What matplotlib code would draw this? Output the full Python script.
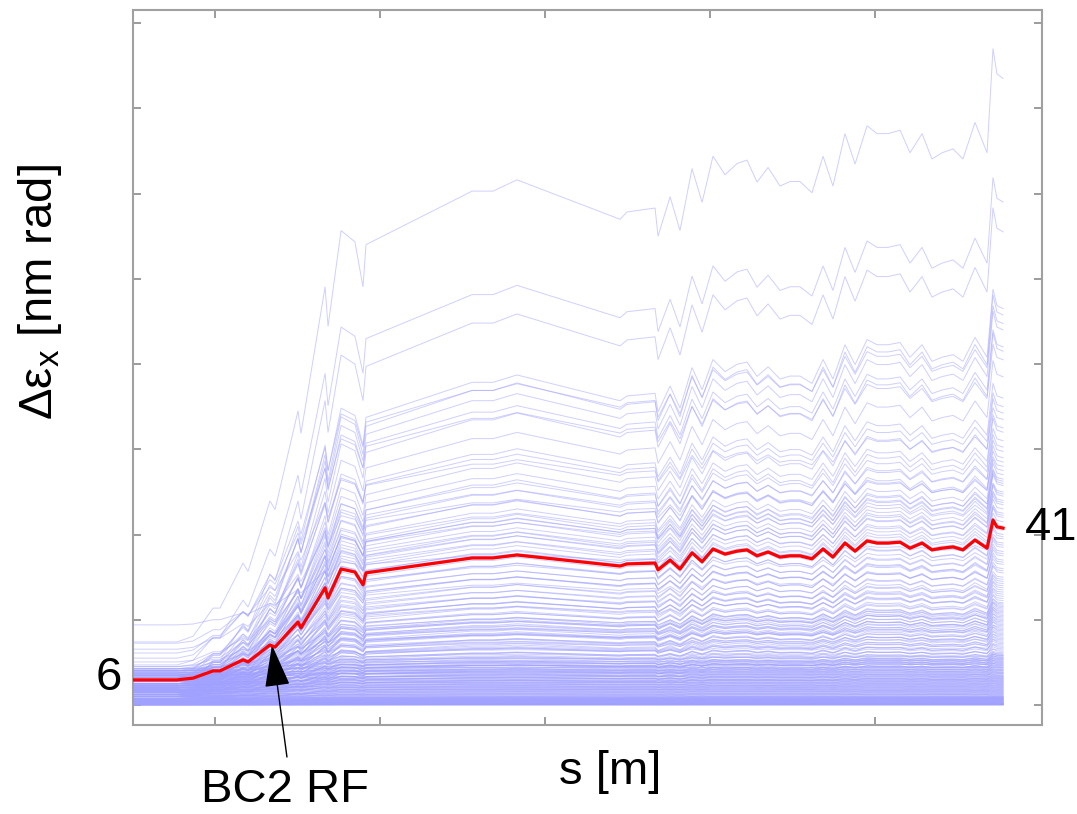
import matplotlib
matplotlib.use("Agg")
import matplotlib.pyplot as plt
import numpy as np

plt.rcParams['font.family'] = ['Liberation Sans', 'DejaVu Sans']
plt.rcParams['mathtext.fontset'] = 'custom'
plt.rcParams['mathtext.rm'] = 'Liberation Sans'
plt.rcParams['mathtext.it'] = 'Liberation Sans:italic'

# position along the beamline [m]
s_m = [50.3, 77.0, 86.7, 98.8, 103.0, 117.0, 120.0, 133.3, 136.4, 150.3,
       152.1, 166.7, 168.5, 176.4, 184.8, 189.7, 191.5, 255.8, 268.5, 283.0,
       345.5, 349.7, 366.7, 368.5, 375.8, 381.8, 389.1, 395.2, 401.8, 409.1,
       416.4, 422.4, 428.5, 435.2, 442.4, 448.5, 454.5, 461.8, 468.5, 474.5,
       481.8, 487.9, 495.2, 501.2, 507.9, 515.2, 521.2, 528.5, 534.5, 540.6,
       547.3, 553.3, 560.6, 567.9, 571.5, 573.9, 577.6]

# highlighted (red) emittance growth [nm rad]
red_growth = [5.9, 5.9, 6.3, 8.0, 8.0, 10.6, 10.1, 14.1, 13.6, 19.5,
              18.1, 27.5, 25.1, 31.9, 31.2, 28.2, 31.0, 34.5, 34.5, 35.2,
              32.6, 33.1, 33.3, 31.7, 34.0, 31.9, 35.7, 33.6, 36.6, 35.4,
              36.1, 36.4, 35.0, 35.9, 34.7, 35.0, 35.0, 34.3, 36.6, 34.7,
              38.0, 36.1, 38.5, 38.0, 38.0, 38.2, 36.8, 38.0, 36.4, 36.8,
              37.1, 36.4, 38.7, 36.8, 43.4, 41.8, 41.5]

# common relative growth shape of the individual (blue) runs
run_shape = [0.0, 0.0, 0.01, 0.06, 0.06, 0.14, 0.125, 0.25, 0.235, 0.41,
             0.37, 0.63, 0.56, 0.73, 0.71, 0.63, 0.705, 0.80, 0.80, 0.82,
             0.75, 0.763, 0.77, 0.72, 0.79, 0.73, 0.84, 0.78, 0.862, 0.829,
             0.849, 0.855, 0.816, 0.842, 0.809, 0.817, 0.817, 0.797, 0.862, 0.809,
             0.902, 0.848, 0.916, 0.902, 0.902, 0.908, 0.868, 0.902, 0.857, 0.868,
             0.875, 0.857, 0.922, 0.868, 1.053, 1.008, 1.0]

# (start value, end value) of the upper blue runs [nm rad]
upper_runs = [(14.8, 147), (9.4, 118), (4.0, 111), (6.5, 93), (3.0, 91.5), (11.0, 89.5),
              (5.0, 88), (7.5, 84), (2.5, 83), (12.2, 81), (4.5, 77), (6.0, 72),
              (8.0, 70), (3.5, 68.5), (14.5, 67), (5.5, 65), (2.0, 64), (7.0, 62),
              (4.0, 60.5), (9.0, 59.5), (3.0, 58), (6.5, 57), (13.1, 56), (5.0, 55),
              (2.5, 54), (8.5, 53), (4.5, 52.5), (6.0, 52), (3.5, 51.5), (10.1, 50),
              (5.5, 49.5), (2.0, 49), (7.0, 48), (4.0, 47.5), (6.5, 47), (3.0, 46),
              (8.0, 45), (5.0, 44.5), (1.5, 44), (4.5, 43), (6.0, 42), (3.5, 41.5),
              (7.5, 41), (2.5, 40), (5.0, 39.5), (18.8, 39), (9.0, 38), (4.0, 37.5),
              (6.0, 37), (3.0, 36), (5.5, 35.5), (7.0, 35), (2.0, 34), (4.5, 33.5),
              (8.5, 33), (3.5, 32), (6.0, 31.5), (1.5, 31), (5.0, 30), (7.5, 29.5),
              (3.0, 29), (4.5, 28.5), (6.5, 28), (2.5, 27.5), (5.5, 27), (8.0, 26.5),
              (3.5, 26), (4.0, 25.5), (6.0, 25), (2.0, 24.5),
              (5.0, 24), (3.0, 23.7), (7.0, 23.4), (4.0, 23.1), (2.0, 22.8), (6.0, 22.5),
              (8.0, 22.2), (3.5, 21.9), (5.5, 21.6), (1.5, 21.3), (4.5, 21), (6.5, 20.7),
              (2.5, 20.4), (7.5, 20.1), (3.0, 19.8), (5.0, 19.5), (4.0, 19.2), (6.0, 18.9),
              (2.0, 18.6), (8.5, 18.3), (3.5, 18), (5.5, 17.7), (1.0, 17.4), (4.5, 17.1),
              (6.5, 16.8), (3.0, 16.5), (7.0, 16.2), (2.5, 15.9), (5.0, 15.6), (4.0, 15.3),
              (6.0, 15), (1.5, 14.7), (3.5, 14.4), (8.0, 14.1), (5.5, 13.8), (2.0, 13.5),
              (4.5, 13.2), (7.5, 12.9), (3.0, 12.6), (6.5, 12.3)]

# start / end values of the dense lower band of blue runs [nm rad]
dense_start = [6.5, 3.0, 8.0, 4.5, 2.0, 7.0, 5.0, 1.5, 6.0, 3.5,
               8.5, 4.0, 2.5, 7.5, 5.5, 1.0, 6.5, 3.0, 8.0, 4.5,
               2.0, 7.0, 5.0, 3.5, 8.2, 1.5, 6.0, 4.0, 7.5, 2.5,
               5.5, 7.0, 3.0, 6.5, 1.5, 4.5, 7.2, 2.5, 5.0, 6.8,
               3.5, 6.0, 1.5, 5.0, 6.4, 2.5, 4.0, 6.0, 3.0, 5.5,
               1.5, 5.0, 3.5, 5.5, 2.0, 4.5, 5.0, 1.0, 3.5, 4.8,
               2.5, 4.5, 1.0, 4.0, 3.0, 4.2, 1.5, 3.5, 4.0, 2.0,
               3.5, 1.5, 3.0, 3.5, 1.0, 2.5, 3.2, 2.0, 3.0, 1.0,
               2.5, 1.5, 2.6, 0.8, 2.2, 1.8, 2.2, 0.5, 2.0, 1.5,
               1.5, 1.8, 0.6, 1.6, 1.2, 1.5, 0.4, 1.4, 1.2, 1.0,
               1.3, 0.5, 1.2, 0.9, 1.1, 0.3, 1.0, 0.8, 0.9, 0.4,
               0.8, 0.9, 0.3, 0.7, 0.6, 0.7, 0.2, 0.5, 0.5, 0.3,
               0.4, 0.3, 0.4, 0.1, 0.3, 0.3, 0.2, 0.1, 0.2, 0.2,
               0.1, 0.15, 0.05, 0.1, 0.1, 0.05, 0.05, 0.03, 0.02, 0.0]
dense_end = [12.0, 11.9, 11.7, 11.6, 11.5, 11.3, 11.2, 11.1, 10.9, 10.8,
             10.7, 10.6, 10.4, 10.3, 10.2, 10.0, 9.9, 9.8, 9.7, 9.5,
             9.4, 9.3, 9.2, 9.0, 8.9, 8.8, 8.7, 8.6, 8.4, 8.3,
             8.2, 8.1, 8.0, 7.8, 7.7, 7.6, 7.5, 7.4, 7.3, 7.2,
             7.0, 6.9, 6.8, 6.7, 6.6, 6.5, 6.4, 6.3, 6.2, 6.1,
             6.0, 5.9, 5.8, 5.7, 5.6, 5.5, 5.4, 5.3, 5.2, 5.1,
             5.0, 4.9, 4.8, 4.7, 4.6, 4.5, 4.4, 4.3, 4.2, 4.1,
             4.0, 3.9, 3.8, 3.7, 3.6, 3.5, 3.4, 3.3, 3.2, 3.1,
             3.0, 2.9, 2.8, 2.7, 2.6, 2.5, 2.4, 2.3, 2.2, 2.1,
             2.0, 1.95, 1.9, 1.85, 1.8, 1.75, 1.7, 1.65, 1.6, 1.55,
             1.5, 1.45, 1.4, 1.35, 1.3, 1.25, 1.2, 1.15, 1.1, 1.05,
             1.0, 0.95, 0.9, 0.85, 0.8, 0.75, 0.7, 0.65, 0.6, 0.55,
             0.5, 0.47, 0.44, 0.41, 0.38, 0.35, 0.32, 0.29, 0.26, 0.23,
             0.2, 0.18, 0.16, 0.14, 0.12, 0.1, 0.08, 0.06, 0.04, 0.02]

y_ticks = [0, 20, 40, 60, 80, 100, 120, 140, 160]
x_ticks = [100, 200, 300, 400, 500]

fig = plt.figure(figsize=(10.77, 8.14), dpi=100)
ax = fig.add_axes([133/1077, 1-725/814, 909/1077, 715/814])

s = np.array(s_m)
shape = np.array(run_shape)
runs = list(upper_runs) + list(zip(dense_start, dense_end))
for a, e in runs[::-1]:
    ax.plot(s, a + (e - a) * shape, color='#a0a0ff', lw=0.7, alpha=0.5,
            solid_joinstyle='miter', zorder=2)

ax.plot(s, red_growth, color='#ff0000', lw=2.3, zorder=5)

ax.set_xlim(50.3, 601.2)
ax.set_ylim(-4.69, 163.05)
ax.set_xticks(x_ticks)
ax.set_yticks(y_ticks)
ax.tick_params(direction='in', length=6, width=1.1, color='#808080',
               top=True, right=True, labelbottom=False, labelleft=False)
for sp in ax.spines.values():
    sp.set_color('#a0a0a0')
    sp.set_linewidth(1.5)

fs = 34
ax.text(43.6, 6.3, '6', fontsize=fs, ha='right', va='center', clip_on=False)
ax.text(590.9, 41.5, '41', fontsize=fs, ha='left', va='center', clip_on=False)

fig.text(40/1077, 1-292/814, r'Δε$_{\mathrm{x}}$ [nm rad]', fontsize=fs,
         rotation=90, ha='center', va='center')
fig.text(610/1077, 1-772/814, 's [m]', fontsize=fs, ha='center', va='center')
fig.text(285/1077, 0.002, 'BC2 RF', fontsize=fs, ha='center', va='bottom')

ax.annotate('', xy=(134.5, 14.1), xytext=(143.6, -12.2),
            arrowprops=dict(arrowstyle='-|>,head_length=1.35,head_width=0.4',
                            mutation_scale=20, lw=1.0, color='black',
                            shrinkA=0, shrinkB=0),
            annotation_clip=False)

fig.savefig('out.png', dpi=100)
